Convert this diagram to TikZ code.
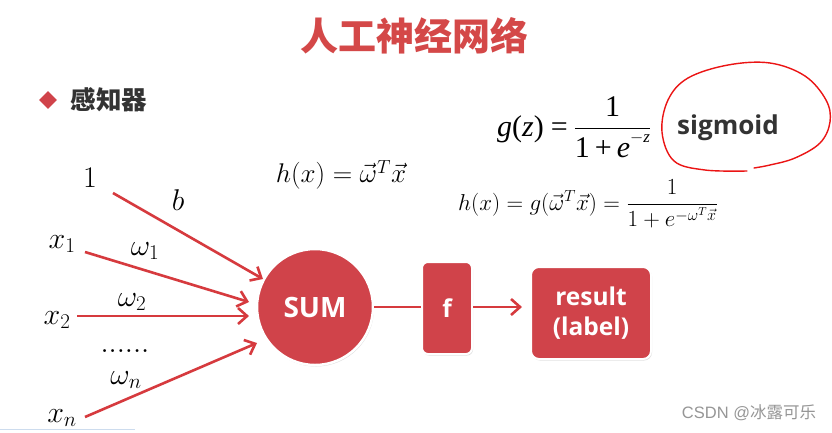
\RequirePackage{fix-cm}
\documentclass[tikz,border=0pt]{standalone}
\usepackage{fontspec}
\usepackage{amsmath}
\newfontfamily\cjk{Noto Sans CJK SC}
\newfontfamily\osans{Open Sans}
\newfontfamily\tms{Liberation Serif}
\newfontfamily\lsans{Liberation Sans}
\usetikzlibrary{arrows.meta,shadows,shapes.geometric}
\definecolor{nred}{RGB}{208,67,74}
\definecolor{ared}{RGB}{214,58,62}
\definecolor{tred}{RGB}{212,72,72}
\definecolor{dgray}{RGB}{51,51,51}
\definecolor{wmgray}{RGB}{150,150,150}
\definecolor{inkred}{RGB}{235,20,20}
\tikzset{
  lbl/.style={font=\fontsize{30}{34}\selectfont, inner sep=0pt},
  arr/.style={draw=ared, line width=2.6pt, -{Straight Barb[length=9pt,width=16pt]}},
  boxnode/.style={fill=nred, draw=white, line width=2pt, text=white,
    font=\osans\bfseries\fontsize{24.5}{30}\selectfont, align=center,
    drop shadow={opacity=0.25, shadow xshift=1pt, shadow yshift=-1.5pt}},
}
\begin{document}
\begin{tikzpicture}[x=1pt,y=-1pt]
\useasboundingbox[fill=white] (0,0) rectangle (832,432);
% title
\node[font=\cjk\bfseries\fontsize{38}{42}\selectfont, text=tred] (title) at (414,36) {人工神经网络};
\node[diamond, fill=nred, minimum size=18pt, inner sep=0pt] (bul) at (48,100) {};
\node[font=\cjk\bfseries\fontsize{25.5}{28}\selectfont, text=dgray] (perc) at (109,100) {感知器};
% formulas
\node[inner sep=0pt, font=\tms\fontsize{30}{34}\selectfont, anchor=west] (gz) at (497,127)
  {\itshape g\upshape(\itshape z\upshape)\hspace{7pt}=\hspace{6pt}$\dfrac{\hbox{\tms\fontsize{30}{34}\selectfont 1}}{\hbox{\tms\fontsize{30}{34}\selectfont 1\,+\,\itshape e\upshape\raisebox{1.1ex}{\fontsize{17}{19}\selectfont\itshape $-$z}}}$};
\node[font=\osans\bfseries\fontsize{26}{30}\selectfont, text=dgray, inner sep=0pt] (sig) at (728,128) {sigmoid};
\draw[inkred, line width=1.4pt, line cap=round] plot[smooth, tension=0.6] coordinates {
  (747,171) (705,170) (674,161) (662,132) (668,100) (688,78) (728,65) (770,63)
  (805,76) (826,100) (830,122) (820,143) (795,158) (770,165) (754,168)};
\node[font=\fontsize{27}{31}\selectfont, inner sep=0pt] (h1) at (341,175) {$h(x)=\vec{\omega}^{T}\vec{x}$};
\node[font=\fontsize{23}{27}\selectfont, inner sep=0pt] (h2) at (588,204)
  {$h(x)=g(\vec{\omega}^{T}\vec{x})=\dfrac{1}{1+e^{-\omega^{T}\vec{x}}}$};
% inputs
\node[lbl] (one) at (90,178) {$1$};
\node[lbl] (b) at (178,200) {$b$};
\node[lbl] (x1) at (62,244) {$x_1$};
\node[lbl] (w1) at (145,251) {$\omega_1$};
\node[lbl] (w2) at (132,302) {$\omega_2$};
\node[lbl] (x2) at (57,320) {$x_2$};
\node[lbl] (dots) at (125,351) {$......$};
\node[lbl] (wn) at (126,380) {$\omega_n$};
\node[lbl] (xn) at (62,418) {$x_n$};
% neuron
\node[circle, boxnode, line width=2.5pt, minimum size=116pt, font=\osans\bfseries\fontsize{28}{32}\selectfont] (sum) at (315,307) {SUM};
\node[boxnode, rounded corners=6pt, minimum width=50pt, minimum height=92pt] (f) at (447,308) {f};
\node[boxnode, rounded corners=8pt, minimum width=120pt, minimum height=92pt] (res) at (591,313) {result\\(label)};
% connectors
\coordinate (s1) at (113,193); \coordinate (e1) at (263,279);
\coordinate (s2) at (85,252);  \coordinate (e2) at (249,302);
\coordinate (s3) at (77,316);  \coordinate (e3) at (249,316);
\coordinate (s4) at (85,417);  \coordinate (e4) at (257,343);
\draw[arr] (s1) -- (e1);
\draw[arr] (s2) -- (e2);
\draw[arr] (s3) -- (e3);
\draw[arr] (s4) -- (e4);
\draw[draw=ared, line width=2.6pt] (sum.east) -- (f.west |- sum.east);
\draw[arr, shorten >=8pt] (f.east |- sum.east) -- (res.west |- sum.east);
% watermark
\node[font=\fontsize{16.5}{18}\selectfont, text=wmgray, inner sep=0pt] (wm) at (749,413) {\lsans CSDN @\cjk 冰露可乐};
\coordinate (bl1) at (0,429); \coordinate (bl2) at (135,429);
\draw[color={rgb,255:red,205;green,220;blue,238}, line width=1pt] (bl1) -- (bl2);
\end{tikzpicture}
\end{document}
